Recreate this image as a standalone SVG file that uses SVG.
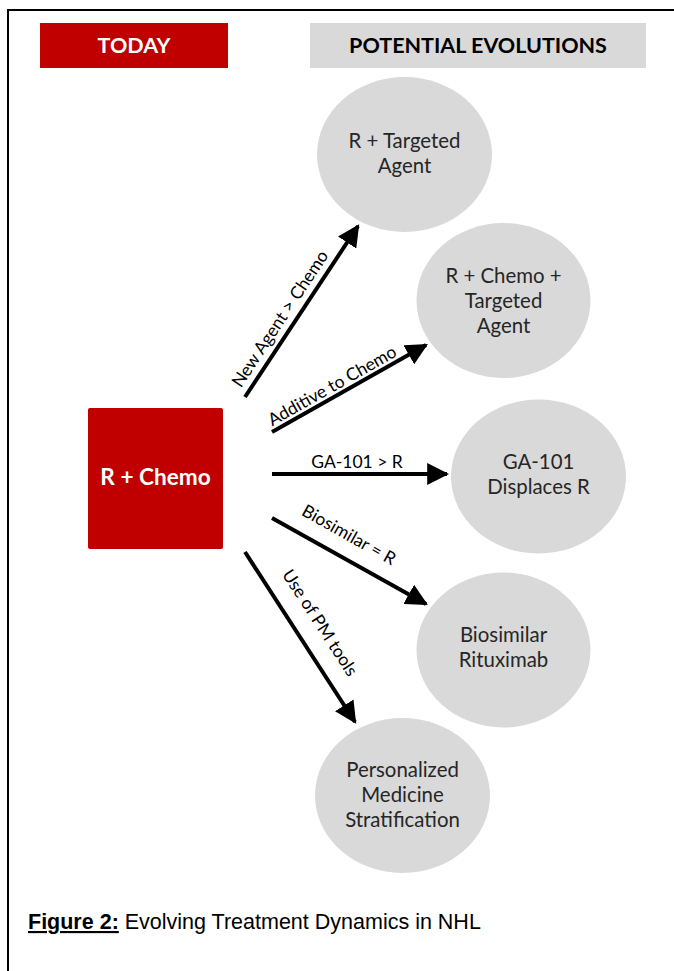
<svg xmlns="http://www.w3.org/2000/svg" width="674" height="971" viewBox="0 0 674 971">
<defs>
<marker id="ah" viewBox="0 0 10 10" refX="9" refY="5" markerWidth="5.5" markerHeight="5.5" orient="auto" markerUnits="strokeWidth">
<path d="M0,0 L10,5 L0,10 Z" fill="#000"/>
</marker>
<style>
.hdr{font-family:Lato,"Liberation Sans",sans-serif;font-weight:bold;font-size:21.5px;text-anchor:middle}
.nt{font-family:Lato,"Open Sans",sans-serif;font-size:20.4px;fill:#262626;text-anchor:middle}
.lbl{font-family:Lato,"Open Sans",sans-serif;font-size:17.5px;fill:#000;text-anchor:middle}
.ell{fill:#d9d9d9}
.arr{stroke:#000;stroke-width:4;fill:none;marker-end:url(#ah)}
.cap{font-family:"Liberation Sans",Arial,sans-serif;font-size:21.5px;fill:#000}
</style>
</defs>
<rect width="674" height="971" fill="#fff"/>
<path d="M8,971 V10 H674" fill="none" stroke="#000" stroke-width="2"/>

<g id="today">
<rect x="40" y="23" width="188" height="45" fill="#c00000"/>
<text class="hdr" x="134" y="53" fill="#fff">TODAY</text>
</g>
<g id="potential">
<rect x="310" y="23" width="336" height="45" fill="#d9d9d9"/>
<text class="hdr" x="478" y="53" fill="#000">POTENTIAL EVOLUTIONS</text>
</g>

<g id="rchemo">
<rect x="88" y="408" width="135" height="141" rx="2" fill="#c00000"/>
<text x="155.5" y="485" font-family="Lato,'Liberation Sans',sans-serif" font-weight="bold" font-size="22.6" fill="#fff" text-anchor="middle">R + Chemo</text>
</g>

<g id="n1">
<ellipse class="ell" cx="404.5" cy="154.5" rx="87.5" ry="77.5"/>
<text class="nt" x="404.5" y="148">R + Targeted</text>
<text class="nt" x="404.5" y="173">Agent</text>
</g>
<g id="n2">
<ellipse class="ell" cx="503.5" cy="300.5" rx="87" ry="77.5"/>
<text class="nt" x="503.5" y="283">R + Chemo +</text>
<text class="nt" x="503.5" y="308">Targeted</text>
<text class="nt" x="503.5" y="333">Agent</text>
</g>
<g id="n3">
<ellipse class="ell" cx="538.5" cy="476.5" rx="87.5" ry="77"/>
<text class="nt" x="538.5" y="469">GA-101</text>
<text class="nt" x="538.5" y="494">Displaces R</text>
</g>
<g id="n4">
<ellipse class="ell" cx="503.5" cy="650" rx="87" ry="77.5"/>
<text class="nt" x="503.5" y="642">Biosimilar</text>
<text class="nt" x="503.5" y="667">Rituximab</text>
</g>
<g id="n5">
<ellipse class="ell" cx="402.5" cy="795.5" rx="87.5" ry="77.5"/>
<text class="nt" x="402.5" y="777">Personalized</text>
<text class="nt" x="402.5" y="802">Medicine</text>
<text class="nt" x="402.5" y="827">Stratification</text>
</g>

<g id="connectors">
<line class="arr" x1="245" y1="397" x2="358" y2="226"/>
<line class="arr" x1="272" y1="432" x2="426" y2="345"/>
<line class="arr" x1="272" y1="474" x2="447" y2="474"/>
<line class="arr" x1="272" y1="518" x2="426" y2="604"/>
<line class="arr" x1="245" y1="552" x2="355" y2="722"/>
<text class="lbl" transform="translate(285,322) rotate(-56.5)">New Agent &gt; Chemo</text>
<text class="lbl" transform="translate(335,391) rotate(-29.5)">Additive to Chemo</text>
<text class="lbl" x="357" y="468">GA-101 &gt; R</text>
<text class="lbl" transform="translate(346,540) rotate(29.3)">Biosimilar = R</text>
<text class="lbl" transform="translate(315,626) rotate(57)">Use of PM tools</text>
</g>

<g id="caption">
<text class="cap" x="28" y="929"><tspan font-weight="bold" text-decoration="underline">Figure 2:</tspan> Evolving Treatment Dynamics in NHL</text>
</g>
</svg>
